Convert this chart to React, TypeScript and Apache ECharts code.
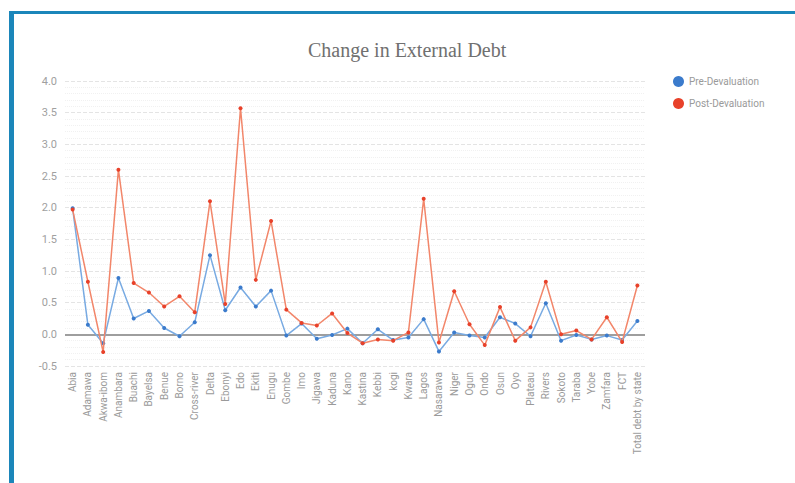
import React, { useEffect, useRef } from "react";
import * as echarts from "echarts";

// States (plus FCT and the overall total) along the category axis
const states: string[] = [
  "Abia", "Adamawa", "Akwa-ibom", "Anambara", "Buachi", "Bayelsa", "Benue", "Borno",
  "Cross-river", "Delta", "Ebonyi", "Edo", "Ekiti", "Enugu", "Gombe", "Imo",
  "Jigawa", "Kaduna", "Kano", "Kastina", "Kebbi", "kogi", "Kwara", "Lagos",
  "Nasarawa", "Niger", "Ogun", "Ondo", "Osun", "Oyo", "Plateau", "Rivers",
  "Sokoto", "Taraba", "Yobe", "Zamfara", "FCT", "Total debt by state",
];

// Change in external debt before the devaluation
const preDevaluation: number[] = [
  1.99, 0.15, -0.14, 0.89, 0.25, 0.37, 0.1, -0.03,
  0.19, 1.25, 0.38, 0.74, 0.44, 0.69, -0.02, 0.17,
  -0.07, -0.01, 0.09, -0.14, 0.08, -0.09, -0.05, 0.24,
  -0.27, 0.03, -0.02, -0.05, 0.27, 0.17, -0.03, 0.49,
  -0.1, -0.01, -0.08, -0.02, -0.09, 0.21,
];

// Change in external debt after the devaluation
const postDevaluation: number[] = [
  1.97, 0.83, -0.28, 2.6, 0.81, 0.66, 0.44, 0.6,
  0.35, 2.1, 0.48, 3.57, 0.86, 1.79, 0.39, 0.18,
  0.14, 0.33, 0.02, -0.14, -0.08, -0.1, 0.03, 2.14,
  -0.13, 0.68, 0.16, -0.17, 0.43, -0.1, 0.11, 0.83,
  0.0, 0.06, -0.08, 0.27, -0.12, 0.77,
];

const seriesNames: string[] = ["Pre-Devaluation", "Post-Devaluation"];

const BLUE = "#3b7bcc";
const BLUE_LINE = "#78aae2";
const RED = "#e8412a";
const RED_LINE = "#f2866a";
const FRAME = "#1b86ba";

export default function App() {
  const ref = useRef<HTMLDivElement>(null);

  useEffect(() => {
    if (!ref.current) return;
    const chart = echarts.init(ref.current, null, { renderer: "svg" });

    chart.setOption({
      animation: false,
      backgroundColor: "#ffffff",
      title: {
        text: "Change in External Debt",
        left: 303,
        top: 35,
        textStyle: {
          fontFamily: "Liberation Serif, DejaVu Serif, serif",
          fontSize: 20,
          fontWeight: "normal",
          color: "#707070",
        },
      },
      legend: {
        orient: "vertical",
        left: 668,
        top: 71,
        icon: "circle",
        itemWidth: 11,
        itemHeight: 11,
        itemGap: 11,
        textStyle: { fontFamily: "Roboto, sans-serif", fontSize: 10, color: "#9a9a9a" },
        data: seriesNames,
      },
      graphic: [
        { type: "rect", shape: { x: 9, y: 11, width: 786, height: 3 }, style: { fill: FRAME }, silent: true },
        { type: "rect", shape: { x: 9, y: 11, width: 5, height: 472 }, style: { fill: FRAME }, silent: true },
      ],
      grid: { left: 65, right: 150, top: 81, bottom: 117 },
      xAxis: {
        type: "category",
        data: states,
        boundaryGap: true,
        axisLine: { show: false, onZero: false },
        axisTick: { show: false },
        axisLabel: {
          rotate: 90,
          interval: 0,
          margin: 6,
          fontFamily: "Roboto, sans-serif",
          fontSize: 10,
          color: "#9a9a9a",
        },
        splitLine: { show: false },
      },
      yAxis: {
        type: "value",
        min: -0.5,
        max: 4.0,
        interval: 0.5,
        axisLine: { show: false },
        axisTick: { show: false },
        axisLabel: {
          formatter: (v: number) => v.toFixed(1),
          fontFamily: "Roboto, sans-serif",
          fontSize: 11,
          color: "#a0a0a0",
          margin: 8,
        },
        splitLine: { show: true, lineStyle: { color: "#e4e4e4", type: "dashed", width: 1 } },
        minorTick: { show: false, splitNumber: 5 },
        minorSplitLine: { show: true, lineStyle: { color: "#f1f1f1", type: "dotted", width: 1 } },
      },
      series: [
        {
          name: seriesNames[0],
          type: "line",
          data: preDevaluation,
          symbol: "circle",
          symbolSize: 4,
          itemStyle: { color: BLUE },
          lineStyle: { color: BLUE_LINE, width: 1.5 },
          z: 3,
          markLine: {
            silent: true,
            symbol: "none",
            label: { show: false },
            lineStyle: { color: "#9e9e9e", type: "solid", width: 2 },
            data: [{ yAxis: 0 }],
            z: 1,
          },
        },
        {
          name: seriesNames[1],
          type: "line",
          data: postDevaluation,
          symbol: "circle",
          symbolSize: 4,
          itemStyle: { color: RED },
          lineStyle: { color: RED_LINE, width: 1.5 },
          z: 4,
        },
      ],
    });

    return () => chart.dispose();
  }, []);

  return (
    <div
      ref={ref}
      style={{ position: "fixed", left: 0, top: 0, width: 795, height: 483 }}
    />
  );
}
